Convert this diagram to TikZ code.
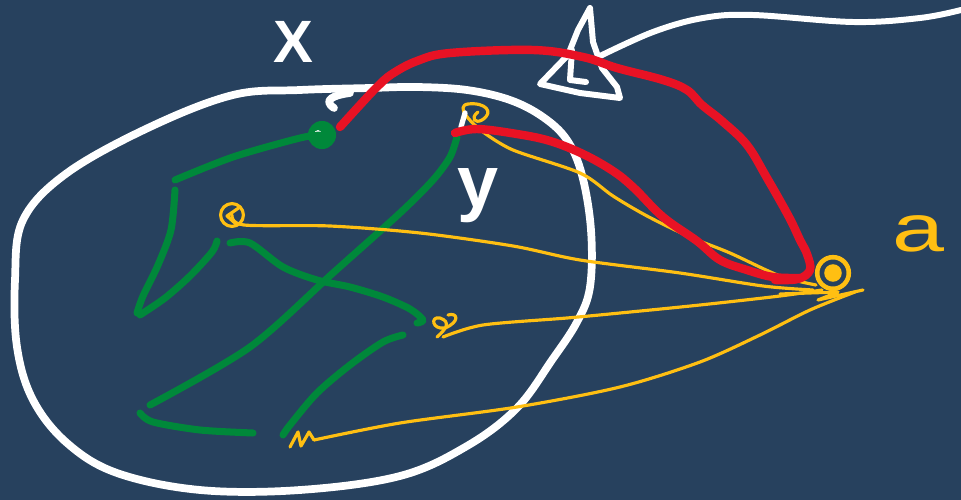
\documentclass[tikz,border=0pt]{standalone}
\usepackage{fontspec}
\setmainfont{Liberation Sans}
\usetikzlibrary{calc}

\definecolor{board}{RGB}{39,65,94}
\definecolor{penred}{RGB}{232,18,36}
\definecolor{pengreen}{RGB}{0,136,58}
\definecolor{penyellow}{RGB}{255,191,18}

\tikzset{
  chalk/.style={draw=white, line width=4.4pt, line cap=round, line join=round},
  redpen/.style={draw=penred, line width=4.8pt, line cap=round, line join=round},
  greenpen/.style={draw=pengreen, line width=4pt, line cap=round, line join=round},
  yellowpen/.style={draw=penyellow, line width=1.8pt, line cap=round, line join=round},
  spot/.style={circle, inner sep=0pt, minimum size=#1},
}

\begin{document}
\begin{tikzpicture}[x=0.02cm, y=-0.02cm]
    % Board
    \useasboundingbox (0,0) rectangle (961,500);
    \fill[board] (0,0) rectangle (961,500);

    % Set X
    \draw[chalk] plot[smooth cycle, tension=0.6] coordinates {
      (370,88) (417,87) (467,90) (510,100) (543,117) (567,140) (582,175)
      (591,230) (590,287) (577,322) (552,360) (517,408) (467,446) (400,476)
      (300,490) (200,490) (117,473) (67,443) (33,400) (17,347) (15,280)
      (23,220) (67,173) (150,127) (233,95) (300,90)};
    \draw[chalk] (350,93) .. controls (334,95) and (322,100) .. (334,108);
    \node[white, font=\fontsize{34}{34}\selectfont\bfseries] (labelX) at (293,42) {X};
    \node[white, font=\fontsize{42}{42}\selectfont\bfseries] (labelY) at (478,196) {y};

    % Cone
    \draw[chalk, line width=3.4pt] (590,8) -- (578,30) -- (568,55) -- (540,84)
      -- (580,93) -- (620,98) -- (617,87) -- (602,68) -- (593,42) -- cycle;
    \draw[chalk, line width=3.4pt] (572,50) -- (570,80) -- (586,82);
    \draw[chalk, line width=3.4pt] plot[smooth, tension=0.6] coordinates {
      (598,57) (653,32) (703,18) (753,15) (853,22) (920,18) (961,10)};

    % Points
    \node[spot=16pt, fill=pengreen] (x0) at (322,135) {};
    \fill[white] ($(x0)+(-4,-1)$) circle (2.2pt);
    \node[spot=13pt, draw=penyellow, line width=1.8pt] (p1) at (232,215) {};
    \draw[yellowpen] (240,207) -- (227,216) -- (236,224);
    \node[spot=6pt] (p2) at (476,117) {};
    \draw[yellowpen] (483,132) .. controls (470,122) and (455,106) .. (468,104)
      .. controls (485,102) and (495,112) .. (482,120) .. controls (475,124) and (470,118) .. (478,112);
    \draw[chalk, line width=3pt] (465,113) -- (461,127);
    \node[spot=6pt] (p3) at (446,326) {};
    \draw[yellowpen] (437,337) .. controls (445,330) and (452,322) .. (440,318)
      .. controls (430,316) and (432,330) .. (445,328) .. controls (460,322) and (458,312) .. (448,315);
    \node[spot=6pt] (p4) at (300,440) {};
    \draw[yellowpen] (290,447) -- (298,432) -- (301,446) -- (309,432) -- (314,440);
    \node[spot=18pt, draw=penyellow, line width=2.6pt] (ptA) at (833,273) {};
    \fill[penyellow] (ptA) circle (5pt);
    \node[penyellow, font=\fontsize{38}{38}\selectfont, xscale=1.4] (labelA) at (918,234) {a};

    % Green strokes
    \draw[greenpen] plot[smooth] coordinates {(x0) (300,138) (233,157) (175,180)};
    \draw[greenpen] plot[smooth] coordinates {(175,190) (171,230) (158,265) (143,296) (137,313)};
    \draw[greenpen] plot[smooth] coordinates {(140,315) (165,298) (190,276) (212,252) (217,241)};
    \draw[greenpen] plot[smooth] coordinates {(230,243) (250,243) (283,267) (317,280) (350,287)
      (383,297) (410,309) (423,320) (417,323)};
    \draw[greenpen] plot[smooth] coordinates {(457,137) (450,157) (433,180) (400,213) (333,273)
      (250,347) (150,405)};
    \draw[greenpen] plot[smooth] coordinates {(140,413) (153,422) (200,430) (253,433)};
    \draw[greenpen] plot[smooth] coordinates {(403,335) (383,342) (350,365) (317,393) (290,425) (283,435)};

    % Yellow strokes to a
    \draw[yellowpen] plot[smooth] coordinates {(p1) (244,225) (330,226) (420,233)
      (513,246) (580,260) (680,273) (763,286) (813,290)};
    \draw[yellowpen] plot[smooth] coordinates {(483,132) (513,150) (580,173) (613,196)
      (647,216) (690,237) (730,253) (780,276) (816,285)};
    \draw[yellowpen] plot[smooth] coordinates {(443,337) (483,325) (567,318) (620,313)
      (700,305) (780,296) (822,290)};
    \draw[yellowpen] plot[smooth] coordinates {(314,440) (400,423) (517,407) (620,387)
      (700,362) (760,335) (810,310) (855,292)};
    \draw[yellowpen] (780,294) -- (838,292) -- (818,300) -- (863,290);

    % Red paths to a
    \draw[redpen] plot[smooth, tension=0.6] coordinates {(340,127) (360,105) (377,87) (392,74)
      (417,61) (450,53) (533,50) (583,57) (617,68) (663,80) (687,90) (702,105) (722,121)
      (747,145) (767,178) (789,217) (800,240) (807,254) (810,270) (798,279) (775,280)};
    \draw[redpen] plot[smooth, tension=0.6] coordinates {(455,133) (477,129) (517,134) (550,141)
      (583,154) (613,171) (634,188) (663,217) (697,241) (720,260) (747,270) (773,277) (800,278)};
\end{tikzpicture}
\end{document}
